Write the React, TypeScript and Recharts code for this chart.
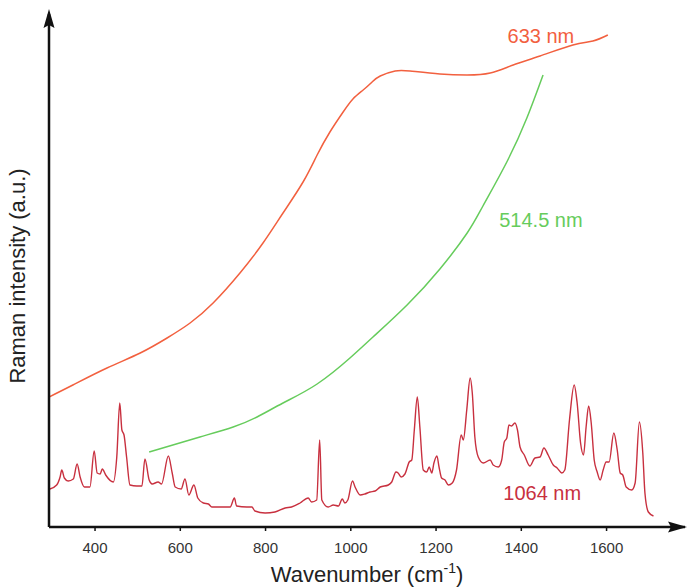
import React from 'react';
import { LineChart, Line, XAxis, YAxis, ReferenceDot } from 'recharts';

// 1064 nm spectrum
const wn1064 = [294, 310, 318, 322, 328, 337, 349, 358, 365, 375, 388, 398, 405, 412, 417, 425, 443, 451, 458, 463, 468, 474, 482, 498, 510, 517, 527, 534, 548, 556, 572, 581, 588, 602, 611, 620, 632, 641, 654, 666, 674, 689, 717, 727, 732, 756, 768, 775, 799, 822, 846, 861, 881, 900, 908, 920, 927, 932, 947, 959, 971, 980, 986, 993, 1004, 1010, 1022, 1033, 1045, 1057, 1069, 1088, 1096, 1106, 1111, 1118, 1127, 1137, 1143, 1149, 1156, 1162, 1170, 1178, 1184, 1190, 1195, 1202, 1207, 1213, 1221, 1229, 1238, 1248, 1259, 1264, 1272, 1280, 1285, 1291, 1299, 1311, 1327, 1334, 1346, 1354, 1360, 1366, 1371, 1377, 1385, 1391, 1397, 1407, 1420, 1432, 1444, 1453, 1463, 1475, 1484, 1495, 1502, 1513, 1524, 1531, 1539, 1546, 1552, 1558, 1564, 1571, 1578, 1585, 1592, 1599, 1606, 1617, 1625, 1632, 1638, 1646, 1659, 1667, 1677, 1685, 1690, 1698, 1710];
const int1064 = [38, 42, 50, 57, 49, 46, 48, 63, 50, 40, 40, 76, 54, 53, 58, 52, 45, 70, 124, 97, 92, 70, 42, 41, 41, 68, 47, 43, 45, 43, 71, 54, 40, 38, 48, 32, 42, 29, 24, 23, 20, 20, 20, 29, 21, 20, 20, 16, 14, 15, 19, 20, 24, 29, 25, 27, 87, 27, 20, 22, 21, 28, 24, 27, 46, 40, 32, 33, 35, 36, 40, 42, 45, 55, 54, 50, 53, 65, 67, 97, 130, 100, 57, 55, 60, 54, 64, 71, 60, 49, 47, 42, 44, 57, 92, 87, 117, 149, 134, 90, 70, 64, 67, 62, 60, 67, 85, 89, 102, 101, 104, 97, 80, 72, 61, 69, 70, 79, 72, 62, 59, 54, 57, 107, 142, 124, 84, 72, 100, 121, 104, 67, 55, 47, 57, 65, 65, 94, 77, 54, 52, 40, 37, 44, 105, 74, 34, 15, 11];

// 633 nm spectrum
const wn633 = [292, 348, 428, 506, 569, 623, 677, 740, 794, 841, 888, 921, 951, 982, 1005, 1029, 1050, 1069, 1104, 1139, 1209, 1273, 1327, 1381, 1444, 1521, 1568, 1603];
const int633 = [130, 142, 159, 174, 189, 204, 224, 254, 284, 314, 345, 372, 395, 415, 428, 437, 445, 451, 456, 456, 453, 452, 454, 462, 471, 482, 486, 492];

// 514.5 nm spectrum
const wn514 = [527, 646, 724, 780, 841, 921, 998, 1052, 1132, 1209, 1273, 1310, 1366, 1413, 1451];
const int514 = [75, 90, 100, 110, 124, 143, 169, 190, 222, 258, 294, 321, 365, 409, 452];

const xTicks = [400, 600, 800, 1000, 1200, 1400, 1600];

const toData = (xs: number[], ys: number[]) => xs.map((x, i) => ({ x, y: ys[i] }));
const data1064 = toData(wn1064, int1064);
const data633 = toData(wn633, int633);
const data514 = toData(wn514, int514);

const FONT = '"Liberation Sans", Arial, sans-serif';
const C633 = '#f2603f';
const C514 = '#66cc5c';
const C1064 = '#c8303f';

const XTitle = (props: any) => {
  const vb = props.viewBox || { x: 49, width: 636 };
  const cx = vb.x + vb.width / 2;
  return (
    <text x={cx} y={582} textAnchor="middle" fontSize={22} fill="#222" fontFamily={FONT}>
      <tspan>Wavenumber (cm</tspan>
      <tspan dy={-9} fontSize={14}>-1</tspan>
      <tspan dy={9}>)</tspan>
    </text>
  );
};

const YTitle = () => (
  <text x={25} y={276} textAnchor="middle" fontSize={22} fill="#222" fontFamily={FONT} transform="rotate(-90, 25, 276)">
    Raman intensity (a.u.)
  </text>
);

export default function App() {
  return (
    <div style={{ position: 'absolute', left: 0, top: 0, width: 687, height: 588, background: '#fff' }}>
      <LineChart width={687} height={588} margin={{ top: 14, right: 2, left: 0, bottom: 0 }}>
        <XAxis
          type="number"
          dataKey="x"
          domain={[292, 1784]}
          allowDataOverflow
          ticks={xTicks}
          height={61}
          tickSize={4}
          tickMargin={11}
          axisLine={{ stroke: '#111', strokeWidth: 2.5 }}
          tickLine={{ stroke: '#111', strokeWidth: 1.5 }}
          tick={{ fontSize: 15, fill: '#333', fontFamily: FONT }}
          label={{ content: XTitle }}
        />
        <YAxis
          type="number"
          domain={[0, 513]}
          allowDataOverflow
          width={49}
          tick={false}
          tickLine={false}
          axisLine={{ stroke: '#111', strokeWidth: 2.5 }}
          label={{ content: YTitle }}
        />
        <Line data={data633} dataKey="y" type="natural" stroke={C633} strokeWidth={1.5} dot={false} isAnimationActive={false} />
        <Line data={data514} dataKey="y" type="natural" stroke={C514} strokeWidth={1.5} dot={false} isAnimationActive={false} />
        <Line data={data1064} dataKey="y" type="monotone" stroke={C1064} strokeWidth={1.4} dot={false} isAnimationActive={false} />
        <ReferenceDot x={1446} y={491} r={0} stroke="none" fill="none"
          label={{ value: '633 nm', position: 'center', fill: C633, fontSize: 20, fontFamily: FONT }} />
        <ReferenceDot x={1446} y={307} r={0} stroke="none" fill="none"
          label={{ value: '514.5 nm', position: 'center', fill: C514, fontSize: 20, fontFamily: FONT }} />
        <ReferenceDot x={1449} y={34} r={0} stroke="none" fill="none"
          label={{ value: '1064 nm', position: 'center', fill: C1064, fontSize: 20, fontFamily: FONT }} />
      </LineChart>
      <svg width={687} height={588} style={{ position: 'absolute', left: 0, top: 0, pointerEvents: 'none' }}>
        <polygon points="49,9 43.5,28 49,25 54.5,28" fill="#111" />
        <polygon points="687,527 668,521.5 671,527 668,532.5" fill="#111" />
      </svg>
    </div>
  );
}
